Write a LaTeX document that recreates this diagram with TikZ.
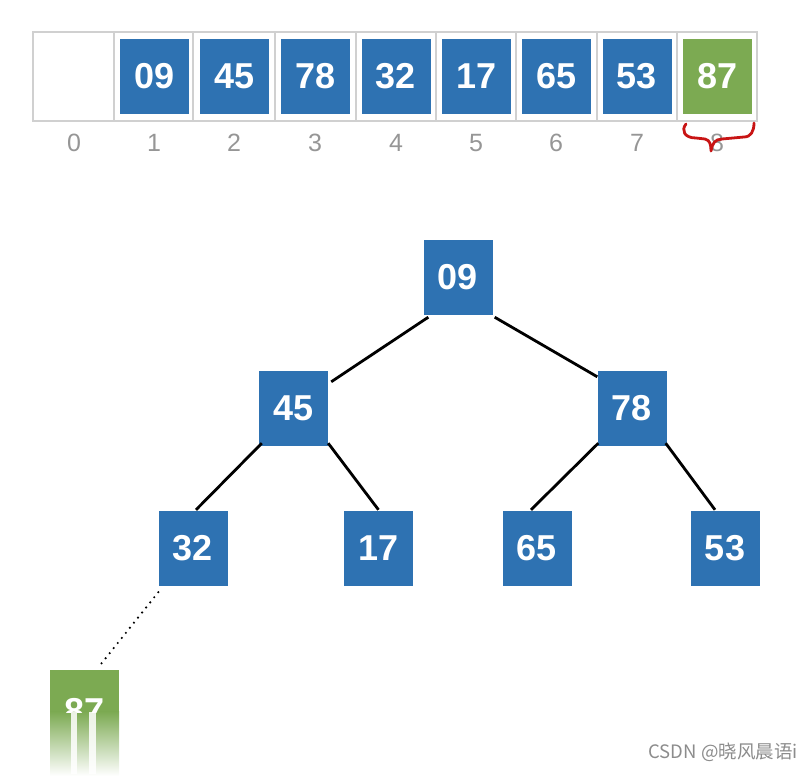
\documentclass[tikz,border=0pt]{standalone}
\usepackage{fontspec}
\setmainfont{Liberation Sans}
\newfontfamily\cjk{Noto Sans CJK SC}
\usetikzlibrary{calc}
\definecolor{cellblue}{RGB}{46,114,178}
\definecolor{cellgreen}{RGB}{124,170,82}
\definecolor{gridgray}{RGB}{208,208,208}
\definecolor{idxgray}{RGB}{150,150,150}
\definecolor{wmgray}{RGB}{140,140,140}
\definecolor{bracered}{RGB}{200,20,20}
\tikzset{
  cell/.style={fill=cellblue, minimum width=69pt, minimum height=75pt, inner sep=0pt,
    text=white, font=\bfseries\fontsize{36}{36}\selectfont},
  greencell/.style={cell, fill=cellgreen},
  idx/.style={text=idxgray, font=\fontsize{25}{25}\selectfont, inner sep=0pt},
  edge/.style={draw=black, line width=2.8pt},
  grid/.style={draw=gridgray, line width=1.4pt}
}
\begin{document}
\begin{tikzpicture}[x=1pt,y=-1pt]
\useasboundingbox (0,0) rectangle (804,776);
% array frame
\draw[grid] (33,32) rectangle (757,121);
\foreach \xx in {114,193,275,356,436,516,597,677}{
  \draw[grid] (\xx,32) -- (\xx,121);
}
% array cells
\node[cell] (a1) at (154.5,76.5) {09};
\node[cell] (a2) at (234.5,76.5) {45};
\node[cell] (a3) at (315.5,76.5) {78};
\node[cell] (a4) at (396,76.5) {32};
\node[cell] (a5) at (476.5,76.5) {17};
\node[cell] (a6) at (556.5,76.5) {65};
\node[cell] (a7) at (637,76.5) {53};
\node[greencell] (a8) at (717.5,76.5) {87};
% indices
\node[idx] (i0) at (74,143) {0};
\node[idx] (i1) at (154,143) {1};
\node[idx] (i2) at (234,143) {2};
\node[idx] (i3) at (315,143) {3};
\node[idx] (i4) at (396,143) {4};
\node[idx] (i5) at (476,143) {5};
\node[idx] (i6) at (556,143) {6};
\node[idx] (i7) at (637,143) {7};
\node[idx] (i8) at (717,143) {8};
% red brace
\draw[bracered, line width=2.8pt, line cap=round, line join=round]
  (686,124) .. controls (681,130) and (684,138) .. (696,138) -- (705,139)
  .. controls (710,140) and (711,145) .. (711,151)
  .. controls (712,144) and (715,139) .. (722,139) -- (744,137)
  .. controls (751,137) and (754,131) .. (754,123);
% tree
\node[cell] (t09) at (458,277.5) {09};
\node[cell] (t45) at (293.5,408.5) {45};
\node[cell] (t78) at (632,408.5) {78};
\node[cell] (t32) at (193,548.5) {32};
\node[cell] (t17) at (378.5,548.5) {17};
\node[cell] (t65) at (537,548.5) {65};
\node[cell] (t53) at (725,548.5) {53};
\draw[edge] ($(t09.south west)+(5,2)$) -- ($(t45.north east)+(3,11)$);
\draw[edge] ($(t09.south east)+(2,2)$) -- ($(t78.north west)+(0,6)$);
\draw[edge] ($(t45.south west)+(3,-3)$) -- ($(t32.north)+(3,-1)$);
\draw[edge] ($(t45.south east)+(0,-3)$) -- ($(t17.north)+(0,-1)$);
\draw[edge] ($(t78.south west)+(1,-3)$) -- ($(t65.north)+(-6,-1)$);
\draw[edge] ($(t78.south east)+(-1,-3)$) -- ($(t53.north)+(-10,-1)$);
% green fading node
\coordinate (g87) at (84.5,707.5);
\fill[cellgreen] (50,670) rectangle (119,712);
\shade[top color=cellgreen, bottom color=white] (50,711.5) rectangle (119,776);
\begin{scope}
  \clip (50,670) rectangle (119,712);
  \node[text=white, font=\bfseries\fontsize{36}{36}\selectfont, inner sep=0pt] (t87) at (84.5,711) {87};
\end{scope}
\fill[white, opacity=0.85] (71,712) rectangle (77,774);
\fill[white, opacity=0.85] (89,712) rectangle (96,774);
\draw[black, line width=2.4pt, line cap=round, dash pattern=on 0pt off 6.5pt]
  ($(t32.south west)+(0,6)$) -- ($(g87)+(14.5,-41)$);
% watermark
\node[text=wmgray, font=\cjk\fontsize{18.5}{18.5}\selectfont, inner sep=0pt, anchor=east] (wm) at (798,752) {CSDN @晓风晨语i};
\end{tikzpicture}
\end{document}
